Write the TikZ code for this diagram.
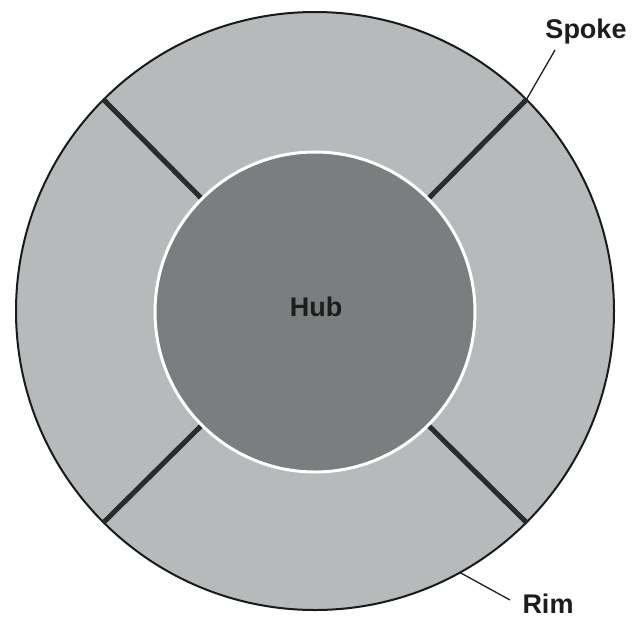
\documentclass[tikz,border=0pt]{standalone}
\usepackage{fontspec}
\setmainfont{Liberation Sans}
\begin{document}
\begin{tikzpicture}[x=1pt,y=-1pt,
  rimcol/.style={fill={rgb,255:red,182;green,186;blue,186}},
  hubcol/.style={fill={rgb,255:red,122;green,126;blue,126}},
  spokeline/.style={line width=5pt,draw={rgb,255:red,40;green,44;blue,44}},
  leader/.style={line width=1.3pt,draw={rgb,255:red,30;green,32;blue,32}},
  lbl/.style={font=\fontsize{27}{30}\selectfont\bfseries,text={rgb,255:red,28;green,30;blue,30},inner sep=0pt}]
  \useasboundingbox (0,0) rectangle (632,619);
  \fill[white] (0,0) rectangle (632,619);
  % wheel rim
  \node[circle,draw={rgb,255:red,25;green,27;blue,27},line width=2pt,rimcol,
        minimum size=598pt,inner sep=0pt,outer sep=0pt] (rim) at (315,311) {};
  % hub (geometry only, for the spoke ends)
  \node[circle,minimum size=320pt,inner sep=0pt,outer sep=0pt] (hubedge) at (315,312) {};
  % spokes
  \foreach \a in {45,135,225,315}
    \draw[spokeline] (hubedge.\a) -- (rim.\a);
  % hub disc
  \node[circle,hubcol,draw=white,line width=3pt,minimum size=320pt,
        inner sep=0pt,outer sep=0pt] (hub) at (315,312) {};
  \node[lbl] (hubtxt) at (316,307) {Hub};
  % labels with leader lines
  \node[lbl,anchor=base] (spoke) at (586,38) {Spoke};
  \coordinate (spk) at (555,50);
  \draw[leader] (spk) -- (rim.45);
  \node[lbl,anchor=base] (rimtxt) at (548,613) {Rim};
  \coordinate (rmk) at (510,600);
  \draw[leader] (rmk) -- (rim.-61.5);
\end{tikzpicture}
\end{document}
